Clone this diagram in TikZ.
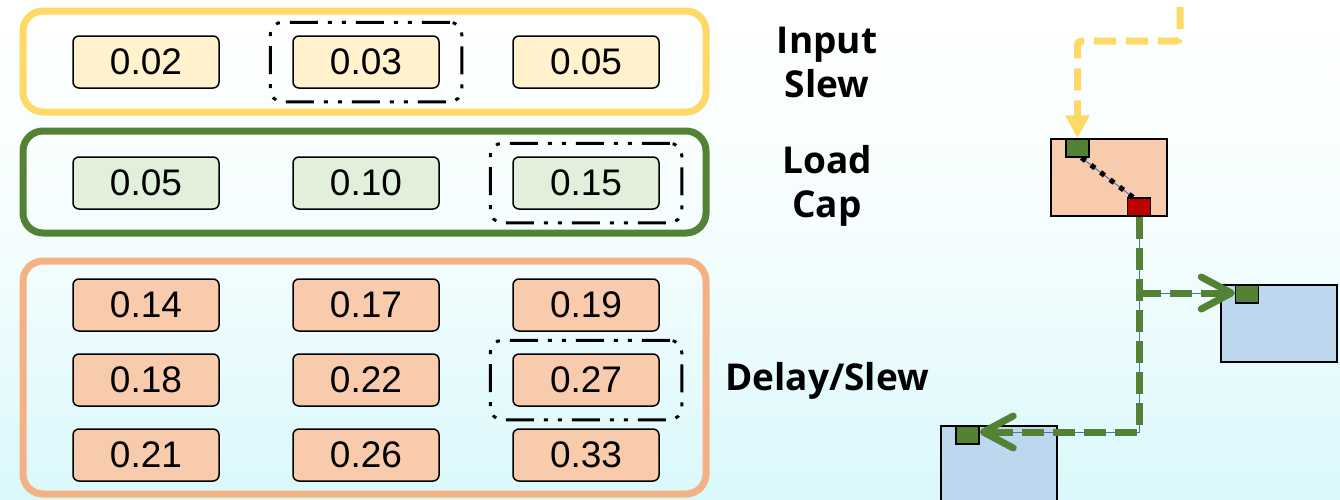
\documentclass[tikz,border=0pt]{standalone}
\usepackage{fontspec}
\setmainfont{Liberation Sans}
\newfontfamily\labelfont{Open Sans}
\usetikzlibrary{arrows.meta,fit}

\definecolor{ylw}{HTML}{FFD966}
\definecolor{ylwfill}{HTML}{FFF2CC}
\definecolor{grn}{HTML}{548235}
\definecolor{grnfill}{HTML}{E2EFDA}
\definecolor{org}{HTML}{F4B183}
\definecolor{orgfill}{HTML}{F8CBAD}
\definecolor{bluefill}{HTML}{BDD7EE}
\definecolor{pinred}{HTML}{C00000}
\definecolor{thinblue}{HTML}{4472C4}
\definecolor{bgbot}{RGB}{218,248,251}

\tikzset{
  val/.style={draw=black, line width=1.5pt, rounded corners=6pt,
    minimum width=146pt, minimum height=52pt, inner sep=0pt,
    font=\fontsize{37}{40}\selectfont},
  valY/.style={val, fill=ylwfill},
  valG/.style={val, fill=grnfill},
  valO/.style={val, fill=orgfill},
  group/.style={line width=7pt, rounded corners=20pt},
  pick/.style={draw=black, line width=3pt, rounded corners=12pt,
    dash pattern=on 28pt off 10pt on 4pt off 10pt on 4pt off 10pt,
    inner xsep=22pt, inner ysep=13pt},
  lbl/.style={font=\labelfont\bfseries\fontsize{37}{44}\selectfont, align=center},
  cell/.style={draw=black, line width=1.5pt, minimum width=116pt,
    minimum height=77pt, inner sep=0pt},
  pin/.style={draw=black, line width=1.5pt, minimum width=23pt,
    minimum height=18pt, inner sep=0pt},
  ywire/.style={draw=ylw, line width=7pt, dash pattern=on 22pt off 10pt,
    rounded corners=4pt},
  gwire/.style={draw=grn, line width=7pt, dash pattern=on 22pt off 9pt},
  trace/.style={draw=thinblue, line width=1pt},
  gtip/.style={-{Straight Barb[length=30pt,width=32pt,round]}},
}

\begin{document}
\begin{tikzpicture}[x=1pt,y=-1pt]
  \useasboundingbox (0,0) rectangle (1340,499);
  \shade[top color=white, bottom color=bgbot, middle color=white!70!bgbot]
    (0,0) rectangle (1340,499);

  % lookup table groups
  \draw[group, draw=ylw] (23,11) rectangle (706,112);
  \draw[group, draw=grn] (23,131) rectangle (706,233);
  \draw[group, draw=org] (23,261) rectangle (706,494);

  % input slew row
  \node[valY] (s1) at (146,62) {0.02};
  \node[valY] (s2) at (366,62) {0.03};
  \node[valY] (s3) at (586,62) {0.05};
  % load cap row
  \node[valG] (c1) at (146,183) {0.05};
  \node[valG] (c2) at (366,183) {0.10};
  \node[valG] (c3) at (586,183) {0.15};
  % delay/slew table
  \node[valO] (d11) at (146,305) {0.14};
  \node[valO] (d12) at (366,305) {0.17};
  \node[valO] (d13) at (586,305) {0.19};
  \node[valO] (d21) at (146,380) {0.18};
  \node[valO] (d22) at (366,380) {0.22};
  \node[valO] (d23) at (586,380) {0.27};
  \node[valO] (d31) at (146,455) {0.21};
  \node[valO] (d32) at (366,455) {0.26};
  \node[valO] (d33) at (586,455) {0.33};

  % selected entries
  \node[pick, fit=(s2)] (ps) {};
  \node[pick, fit=(c3)] (pc) {};
  \node[pick, fit=(d23)] (pd) {};

  % row labels
  \node[lbl] (lin) at (827,62) {Input\\Slew};
  \node[lbl] (lcap) at (827,186) {Load\\Cap};
  \node[lbl, anchor=base] (lout) at (827,390) {Delay/Slew};

  % cells
  \node[cell, fill=orgfill] (gate) at (1109,177.5) {};
  \node[cell, fill=bluefill] (rcell) at (1279,323.5) {};
  \node[cell, fill=bluefill] (lcell) at (999,464.5) {};
  \node[pin, fill=grn] (inpin) at (1077.5,148) {};
  \node[pin, fill=pinred] (outpin) at (1139,207) {};
  \node[pin, fill=grn] (rpin) at (1247,294) {};
  \node[pin, fill=grn] (lpin) at (967.5,435) {};

  % timing arc through the gate
  \draw[trace] ([xshift=4pt]inpin.south) -- ([xshift=-6pt]outpin.north);
  \draw[line width=5pt, dash pattern=on 5pt off 7pt]
    ([xshift=4pt]inpin.south) -- ([xshift=-6pt]outpin.north);

  % input net
  \coordinate (ytop) at (1180,7);
  \coordinate (yturn) at (1180,41);
  \draw[ywire, -{Triangle[width=23pt,length=23pt]}]
    (ytop) -- (yturn) -- (yturn -| inpin.north) -- (inpin.north);

  % output net
  \coordinate (branch) at (1139,293);
  \coordinate (corner) at (1139,432);
  \draw[trace] (outpin.south) -- (corner) -- (corner -| lpin.east);
  \draw[trace] (branch) -- (branch -| rpin.west);
  \draw[gwire, gtip] (outpin.south) -- (corner) -- (corner -| lpin.east);
  \draw[gwire, gtip] (branch) -- (branch -| rpin.west);
\end{tikzpicture}
\end{document}
